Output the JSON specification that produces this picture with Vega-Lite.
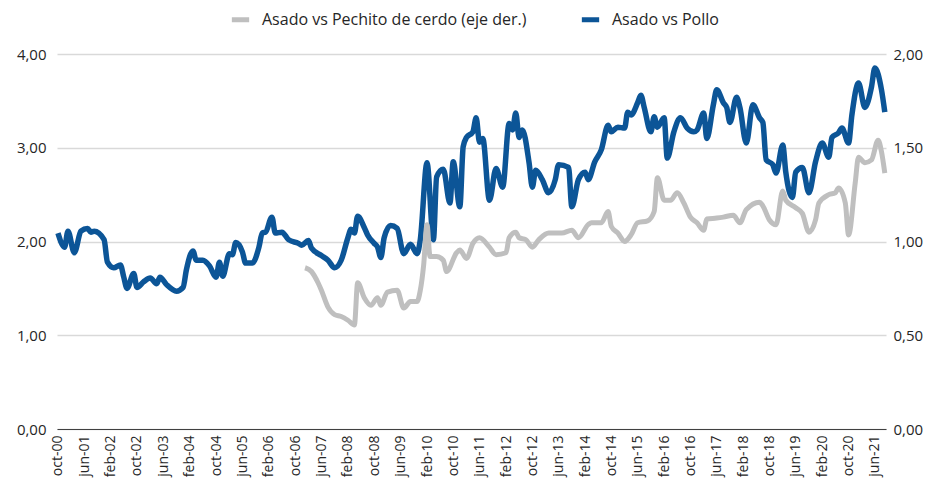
{
  "$schema": "https://vega.github.io/schema/vega-lite/v6.json",
  "width": 829,
  "height": 375,
  "autosize": {"type": "none"},
  "padding": {"left": 57, "top": 54, "right": 47, "bottom": 53},
  "background": "white",
  "config": {
    "view": {"stroke": null},
    "font": "Open Sans",
    "axis": {"labelFont": "Open Sans", "labelColor": "#262626"},
    "axisX": {"labelOverlap": false},
    "legend": {"labelFont": "Open Sans"}
  },
  "datasets": {
    "pollo": [
      {"fecha": "2000-10-01", "valor": 2.09}, {"fecha": "2000-12-01", "valor": 1.94}, {"fecha": "2001-01-01", "valor": 2.11},
      {"fecha": "2001-03-01", "valor": 1.88}, {"fecha": "2001-05-01", "valor": 2.11}, {"fecha": "2001-07-01", "valor": 2.14},
      {"fecha": "2001-08-01", "valor": 2.10}, {"fecha": "2001-09-01", "valor": 2.11}, {"fecha": "2001-12-01", "valor": 2.02},
      {"fecha": "2002-01-01", "valor": 1.78}, {"fecha": "2002-03-01", "valor": 1.72}, {"fecha": "2002-05-01", "valor": 1.75},
      {"fecha": "2002-06-01", "valor": 1.62}, {"fecha": "2002-07-01", "valor": 1.50}, {"fecha": "2002-09-01", "valor": 1.66},
      {"fecha": "2002-10-01", "valor": 1.51}, {"fecha": "2002-12-01", "valor": 1.57}, {"fecha": "2003-02-01", "valor": 1.61},
      {"fecha": "2003-04-01", "valor": 1.55}, {"fecha": "2003-05-01", "valor": 1.62}, {"fecha": "2003-07-01", "valor": 1.54},
      {"fecha": "2003-10-01", "valor": 1.47}, {"fecha": "2003-12-01", "valor": 1.51}, {"fecha": "2004-01-01", "valor": 1.70},
      {"fecha": "2004-03-01", "valor": 1.90}, {"fecha": "2004-04-01", "valor": 1.80}, {"fecha": "2004-06-01", "valor": 1.80},
      {"fecha": "2004-08-01", "valor": 1.74}, {"fecha": "2004-10-01", "valor": 1.62}, {"fecha": "2004-11-01", "valor": 1.78},
      {"fecha": "2004-12-01", "valor": 1.63}, {"fecha": "2005-02-01", "valor": 1.87}, {"fecha": "2005-03-01", "valor": 1.86},
      {"fecha": "2005-04-01", "valor": 1.99}, {"fecha": "2005-06-01", "valor": 1.89}, {"fecha": "2005-07-01", "valor": 1.77},
      {"fecha": "2005-09-01", "valor": 1.77}, {"fecha": "2005-11-01", "valor": 1.94}, {"fecha": "2005-12-01", "valor": 2.09},
      {"fecha": "2006-01-01", "valor": 2.10}, {"fecha": "2006-03-01", "valor": 2.26}, {"fecha": "2006-04-01", "valor": 2.09},
      {"fecha": "2006-06-01", "valor": 2.10}, {"fecha": "2006-08-01", "valor": 2.02}, {"fecha": "2006-11-01", "valor": 1.98},
      {"fecha": "2006-12-01", "valor": 1.96}, {"fecha": "2007-02-01", "valor": 2.01}, {"fecha": "2007-03-01", "valor": 1.93},
      {"fecha": "2007-06-01", "valor": 1.85}, {"fecha": "2007-08-01", "valor": 1.80}, {"fecha": "2007-10-01", "valor": 1.72},
      {"fecha": "2007-12-01", "valor": 1.80}, {"fecha": "2008-02-01", "valor": 2.04}, {"fecha": "2008-03-01", "valor": 2.13},
      {"fecha": "2008-04-01", "valor": 2.09}, {"fecha": "2008-05-01", "valor": 2.27}, {"fecha": "2008-07-01", "valor": 2.15},
      {"fecha": "2008-08-01", "valor": 2.07}, {"fecha": "2008-10-01", "valor": 1.98}, {"fecha": "2008-11-01", "valor": 1.94},
      {"fecha": "2008-12-01", "valor": 1.83}, {"fecha": "2009-01-01", "valor": 2.04}, {"fecha": "2009-03-01", "valor": 2.17},
      {"fecha": "2009-05-01", "valor": 2.14}, {"fecha": "2009-07-01", "valor": 1.87}, {"fecha": "2009-09-01", "valor": 1.97},
      {"fecha": "2009-11-01", "valor": 1.87}, {"fecha": "2009-12-01", "valor": 2.02}, {"fecha": "2010-02-01", "valor": 2.84},
      {"fecha": "2010-04-01", "valor": 2.02}, {"fecha": "2010-05-01", "valor": 2.69}, {"fecha": "2010-07-01", "valor": 2.77},
      {"fecha": "2010-09-01", "valor": 2.41}, {"fecha": "2010-10-01", "valor": 2.85}, {"fecha": "2010-12-01", "valor": 2.37},
      {"fecha": "2011-01-01", "valor": 3.01}, {"fecha": "2011-02-01", "valor": 3.11}, {"fecha": "2011-04-01", "valor": 3.17},
      {"fecha": "2011-05-01", "valor": 3.32}, {"fecha": "2011-06-01", "valor": 3.06}, {"fecha": "2011-07-01", "valor": 3.10},
      {"fecha": "2011-09-01", "valor": 2.44}, {"fecha": "2011-11-01", "valor": 2.78}, {"fecha": "2012-01-01", "valor": 2.58},
      {"fecha": "2012-03-01", "valor": 3.26}, {"fecha": "2012-04-01", "valor": 3.19}, {"fecha": "2012-05-01", "valor": 3.37},
      {"fecha": "2012-06-01", "valor": 3.11}, {"fecha": "2012-07-01", "valor": 3.19}, {"fecha": "2012-09-01", "valor": 2.84},
      {"fecha": "2012-10-01", "valor": 2.58}, {"fecha": "2012-11-01", "valor": 2.76}, {"fecha": "2013-01-01", "valor": 2.66},
      {"fecha": "2013-03-01", "valor": 2.52}, {"fecha": "2013-05-01", "valor": 2.66}, {"fecha": "2013-06-01", "valor": 2.82},
      {"fecha": "2013-09-01", "valor": 2.79}, {"fecha": "2013-10-01", "valor": 2.37}, {"fecha": "2013-12-01", "valor": 2.66},
      {"fecha": "2014-02-01", "valor": 2.74}, {"fecha": "2014-03-01", "valor": 2.66}, {"fecha": "2014-05-01", "valor": 2.85},
      {"fecha": "2014-07-01", "valor": 2.98}, {"fecha": "2014-09-01", "valor": 3.24}, {"fecha": "2014-10-01", "valor": 3.17},
      {"fecha": "2014-12-01", "valor": 3.22}, {"fecha": "2015-02-01", "valor": 3.21}, {"fecha": "2015-03-01", "valor": 3.38},
      {"fecha": "2015-04-01", "valor": 3.35}, {"fecha": "2015-06-01", "valor": 3.48}, {"fecha": "2015-07-01", "valor": 3.56},
      {"fecha": "2015-08-01", "valor": 3.43}, {"fecha": "2015-10-01", "valor": 3.17}, {"fecha": "2015-11-01", "valor": 3.33},
      {"fecha": "2015-12-01", "valor": 3.22}, {"fecha": "2016-02-01", "valor": 3.32}, {"fecha": "2016-03-01", "valor": 2.89},
      {"fecha": "2016-05-01", "valor": 3.17}, {"fecha": "2016-07-01", "valor": 3.32}, {"fecha": "2016-09-01", "valor": 3.21},
      {"fecha": "2016-11-01", "valor": 3.17}, {"fecha": "2016-12-01", "valor": 3.19}, {"fecha": "2017-02-01", "valor": 3.37},
      {"fecha": "2017-03-01", "valor": 3.10}, {"fecha": "2017-05-01", "valor": 3.46}, {"fecha": "2017-06-01", "valor": 3.62},
      {"fecha": "2017-08-01", "valor": 3.48}, {"fecha": "2017-09-01", "valor": 3.43}, {"fecha": "2017-10-01", "valor": 3.27},
      {"fecha": "2017-12-01", "valor": 3.54}, {"fecha": "2018-01-01", "valor": 3.43}, {"fecha": "2018-03-01", "valor": 3.05},
      {"fecha": "2018-05-01", "valor": 3.46}, {"fecha": "2018-07-01", "valor": 3.32}, {"fecha": "2018-08-01", "valor": 3.27},
      {"fecha": "2018-09-01", "valor": 2.87}, {"fecha": "2018-11-01", "valor": 2.82}, {"fecha": "2018-12-01", "valor": 2.73},
      {"fecha": "2019-02-01", "valor": 3.03}, {"fecha": "2019-03-01", "valor": 2.74}, {"fecha": "2019-05-01", "valor": 2.47},
      {"fecha": "2019-06-01", "valor": 2.74}, {"fecha": "2019-08-01", "valor": 2.79}, {"fecha": "2019-10-01", "valor": 2.52},
      {"fecha": "2019-12-01", "valor": 2.85}, {"fecha": "2020-02-01", "valor": 3.05}, {"fecha": "2020-04-01", "valor": 2.90},
      {"fecha": "2020-05-01", "valor": 3.11}, {"fecha": "2020-07-01", "valor": 3.16}, {"fecha": "2020-08-01", "valor": 3.21},
      {"fecha": "2020-10-01", "valor": 3.05}, {"fecha": "2020-11-01", "valor": 3.35}, {"fecha": "2021-01-01", "valor": 3.69},
      {"fecha": "2021-03-01", "valor": 3.43}, {"fecha": "2021-05-01", "valor": 3.65}, {"fecha": "2021-06-01", "valor": 3.85},
      {"fecha": "2021-08-01", "valor": 3.62}, {"fecha": "2021-09-01", "valor": 3.38}
    ],
    "cerdo": [
      {"fecha": "2007-01-01", "valor": 0.86}, {"fecha": "2007-03-01", "valor": 0.84}, {"fecha": "2007-05-01", "valor": 0.78},
      {"fecha": "2007-06-01", "valor": 0.74}, {"fecha": "2007-08-01", "valor": 0.65}, {"fecha": "2007-10-01", "valor": 0.61},
      {"fecha": "2007-12-01", "valor": 0.60}, {"fecha": "2008-02-01", "valor": 0.58}, {"fecha": "2008-04-01", "valor": 0.555},
      {"fecha": "2008-05-01", "valor": 0.78}, {"fecha": "2008-07-01", "valor": 0.70}, {"fecha": "2008-09-01", "valor": 0.66},
      {"fecha": "2008-11-01", "valor": 0.70}, {"fecha": "2008-12-01", "valor": 0.66}, {"fecha": "2009-02-01", "valor": 0.73},
      {"fecha": "2009-05-01", "valor": 0.74}, {"fecha": "2009-07-01", "valor": 0.645}, {"fecha": "2009-09-01", "valor": 0.68},
      {"fecha": "2009-11-01", "valor": 0.68}, {"fecha": "2009-12-01", "valor": 0.74}, {"fecha": "2010-01-01", "valor": 0.875},
      {"fecha": "2010-02-01", "valor": 1.09}, {"fecha": "2010-03-01", "valor": 0.92}, {"fecha": "2010-05-01", "valor": 0.92},
      {"fecha": "2010-07-01", "valor": 0.90}, {"fecha": "2010-08-01", "valor": 0.84}, {"fecha": "2010-11-01", "valor": 0.94},
      {"fecha": "2010-12-01", "valor": 0.955}, {"fecha": "2011-02-01", "valor": 0.91}, {"fecha": "2011-04-01", "valor": 0.99},
      {"fecha": "2011-06-01", "valor": 1.02}, {"fecha": "2011-09-01", "valor": 0.97}, {"fecha": "2011-11-01", "valor": 0.93},
      {"fecha": "2012-02-01", "valor": 0.94}, {"fecha": "2012-03-01", "valor": 1.02}, {"fecha": "2012-05-01", "valor": 1.05},
      {"fecha": "2012-06-01", "valor": 1.02}, {"fecha": "2012-08-01", "valor": 1.01}, {"fecha": "2012-10-01", "valor": 0.97},
      {"fecha": "2012-12-01", "valor": 1.01}, {"fecha": "2013-03-01", "valor": 1.045}, {"fecha": "2013-05-01", "valor": 1.045},
      {"fecha": "2013-07-01", "valor": 1.045}, {"fecha": "2013-10-01", "valor": 1.06}, {"fecha": "2013-12-01", "valor": 1.02},
      {"fecha": "2014-03-01", "valor": 1.09}, {"fecha": "2014-04-01", "valor": 1.10}, {"fecha": "2014-07-01", "valor": 1.10},
      {"fecha": "2014-09-01", "valor": 1.16}, {"fecha": "2014-10-01", "valor": 1.08}, {"fecha": "2014-12-01", "valor": 1.045},
      {"fecha": "2015-02-01", "valor": 1.00}, {"fecha": "2015-04-01", "valor": 1.035}, {"fecha": "2015-06-01", "valor": 1.10},
      {"fecha": "2015-09-01", "valor": 1.11}, {"fecha": "2015-11-01", "valor": 1.16}, {"fecha": "2015-12-01", "valor": 1.34},
      {"fecha": "2016-02-01", "valor": 1.22}, {"fecha": "2016-04-01", "valor": 1.22}, {"fecha": "2016-06-01", "valor": 1.26},
      {"fecha": "2016-08-01", "valor": 1.205}, {"fecha": "2016-10-01", "valor": 1.13}, {"fecha": "2016-12-01", "valor": 1.10},
      {"fecha": "2017-02-01", "valor": 1.06}, {"fecha": "2017-03-01", "valor": 1.12}, {"fecha": "2017-06-01", "valor": 1.125},
      {"fecha": "2017-08-01", "valor": 1.13}, {"fecha": "2017-11-01", "valor": 1.14}, {"fecha": "2018-01-01", "valor": 1.10},
      {"fecha": "2018-03-01", "valor": 1.17}, {"fecha": "2018-07-01", "valor": 1.21}, {"fecha": "2018-08-01", "valor": 1.19},
      {"fecha": "2018-10-01", "valor": 1.115}, {"fecha": "2018-12-01", "valor": 1.09}, {"fecha": "2019-02-01", "valor": 1.27},
      {"fecha": "2019-03-01", "valor": 1.22}, {"fecha": "2019-06-01", "valor": 1.18}, {"fecha": "2019-08-01", "valor": 1.15},
      {"fecha": "2019-10-01", "valor": 1.05}, {"fecha": "2019-12-01", "valor": 1.115}, {"fecha": "2020-01-01", "valor": 1.205},
      {"fecha": "2020-04-01", "valor": 1.25}, {"fecha": "2020-06-01", "valor": 1.26}, {"fecha": "2020-07-01", "valor": 1.285},
      {"fecha": "2020-09-01", "valor": 1.205}, {"fecha": "2020-10-01", "valor": 1.035}, {"fecha": "2020-12-01", "valor": 1.31},
      {"fecha": "2021-01-01", "valor": 1.45}, {"fecha": "2021-03-01", "valor": 1.42}, {"fecha": "2021-05-01", "valor": 1.435},
      {"fecha": "2021-07-01", "valor": 1.54}, {"fecha": "2021-08-01", "valor": 1.48}, {"fecha": "2021-09-01", "valor": 1.365}
    ]
  },
  "encoding": {
    "x": {
      "field": "fecha", "type": "temporal",
      "scale": {"type": "utc", "domain": [{"year": 2000, "month": 9, "date": 22, "utc": true}, {"year": 2021, "month": 9, "date": 12, "utc": true}]},
      "axis": {
        "title": null, "grid": false, "ticks": false, "domainColor": "#404040", "domainWidth": 1,
        "labelAngle": -90, "labelAlign": "right", "labelBaseline": "middle", "labelPadding": 6,
        "labelFontSize": 14, "labelOverlap": false, "labelSeparation": 0,
        "labelExpr": "lower(utcFormat(datum.value, '%b-%y'))",
        "values": [
          {"year": 2000, "month": 10, "date": 1, "utc": true}, {"year": 2001, "month": 6, "date": 1, "utc": true},
          {"year": 2002, "month": 2, "date": 1, "utc": true}, {"year": 2002, "month": 10, "date": 1, "utc": true},
          {"year": 2003, "month": 6, "date": 1, "utc": true}, {"year": 2004, "month": 2, "date": 1, "utc": true},
          {"year": 2004, "month": 10, "date": 1, "utc": true}, {"year": 2005, "month": 6, "date": 1, "utc": true},
          {"year": 2006, "month": 2, "date": 1, "utc": true}, {"year": 2006, "month": 10, "date": 1, "utc": true},
          {"year": 2007, "month": 6, "date": 1, "utc": true}, {"year": 2008, "month": 2, "date": 1, "utc": true},
          {"year": 2008, "month": 10, "date": 1, "utc": true}, {"year": 2009, "month": 6, "date": 1, "utc": true},
          {"year": 2010, "month": 2, "date": 1, "utc": true}, {"year": 2010, "month": 10, "date": 1, "utc": true},
          {"year": 2011, "month": 6, "date": 1, "utc": true}, {"year": 2012, "month": 2, "date": 1, "utc": true},
          {"year": 2012, "month": 10, "date": 1, "utc": true}, {"year": 2013, "month": 6, "date": 1, "utc": true},
          {"year": 2014, "month": 2, "date": 1, "utc": true}, {"year": 2014, "month": 10, "date": 1, "utc": true},
          {"year": 2015, "month": 6, "date": 1, "utc": true}, {"year": 2016, "month": 2, "date": 1, "utc": true},
          {"year": 2016, "month": 10, "date": 1, "utc": true}, {"year": 2017, "month": 6, "date": 1, "utc": true},
          {"year": 2018, "month": 2, "date": 1, "utc": true}, {"year": 2018, "month": 10, "date": 1, "utc": true},
          {"year": 2019, "month": 6, "date": 1, "utc": true}, {"year": 2020, "month": 2, "date": 1, "utc": true},
          {"year": 2020, "month": 10, "date": 1, "utc": true}, {"year": 2021, "month": 6, "date": 1, "utc": true}
        ]
      }
    }
  },
  "layer": [
    {
      "data": {"name": "pollo"},
      "mark": {"type": "line", "interpolate": "monotone", "strokeWidth": 5.5, "strokeJoin": "round"},
      "encoding": {
        "y": {
          "field": "valor", "type": "quantitative",
          "scale": {"domain": [0, 4], "nice": false, "zero": true},
          "axis": {
            "title": null, "orient": "left", "values": [0, 1, 2, 3, 4], "grid": true, "gridColor": "#d9d9d9", "gridWidth": 1.3,
            "ticks": false, "domain": false, "labelFontSize": 15, "labelPadding": 11,
            "labelExpr": "replace(format(datum.value, '.2f'), '.', ',')"
          }
        },
        "color": {
          "datum": "Asado vs Pollo", "type": "nominal",
          "scale": {"domain": ["Asado vs Pechito de cerdo (eje der.)", "Asado vs Pollo"], "range": ["#bfbfbf", "#0c5597"]},
          "legend": {
            "title": null, "orient": "none", "legendX": 172, "legendY": -46, "direction": "horizontal",
            "symbolType": "stroke", "symbolStrokeWidth": 5, "symbolSize": 300, "labelFontSize": 16, "labelLimit": 0,
            "labelColor": "#262626", "columnPadding": 44, "labelOffset": 10, "symbolOffset": 0
          }
        }
      }
    },
    {
      "data": {"name": "cerdo"},
      "mark": {"type": "line", "interpolate": "monotone", "strokeWidth": 5, "strokeJoin": "round"},
      "encoding": {
        "y": {
          "field": "valor", "type": "quantitative",
          "scale": {"domain": [0, 2], "nice": false},
          "axis": {
            "title": null, "orient": "right", "values": [0, 0.5, 1, 1.5, 2], "grid": false,
            "ticks": false, "domain": false, "labelFontSize": 15, "labelPadding": 7,
            "labelExpr": "replace(format(datum.value, '.2f'), '.', ',')"
          }
        },
        "color": {"datum": "Asado vs Pechito de cerdo (eje der.)", "type": "nominal"}
      }
    }
  ],
  "resolve": {"scale": {"y": "independent"}}
}
